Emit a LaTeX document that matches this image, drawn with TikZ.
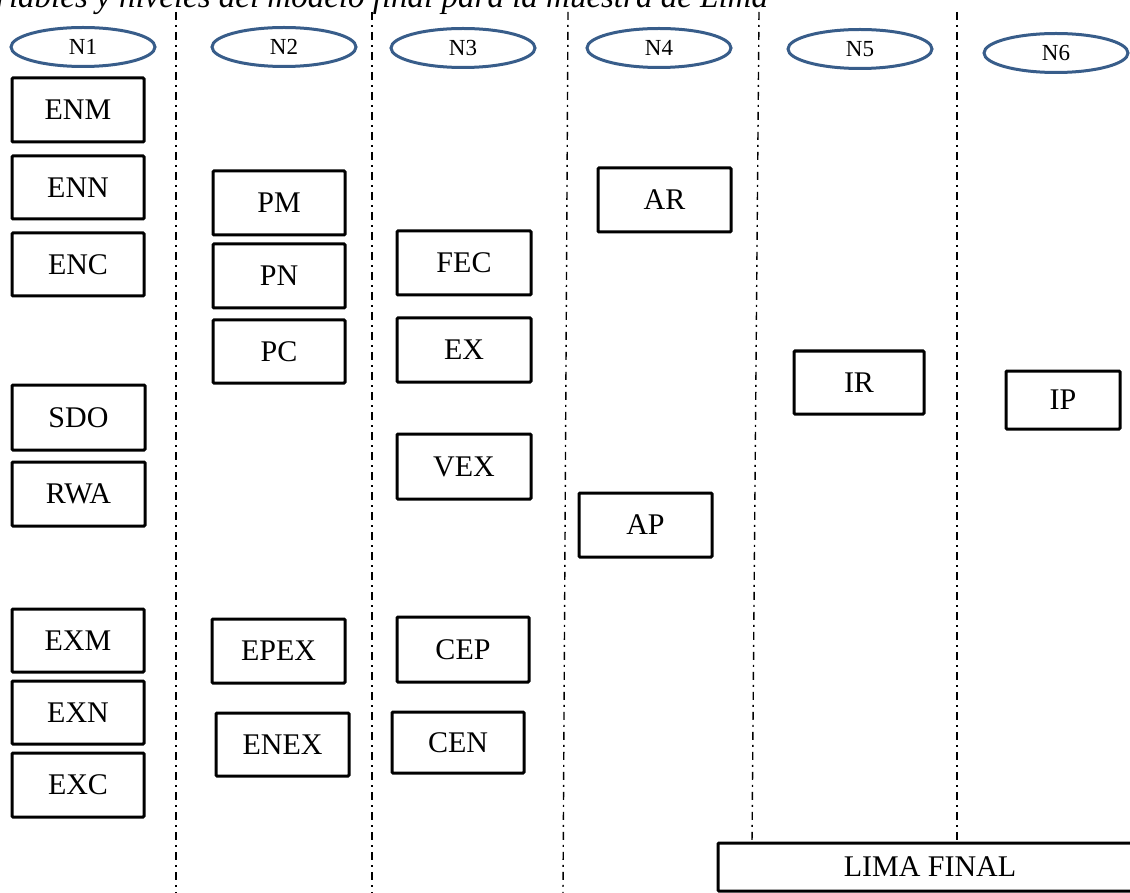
\documentclass[tikz,border=0pt]{standalone}
\usepackage{fontspec}
\setmainfont{Liberation Serif}
\usetikzlibrary{shapes.geometric}
\definecolor{ellblue}{RGB}{56,93,138}
\newcommand\mybox[6]{\node[box,minimum width={(#4-#3)*1pt},minimum height={(#6-#5)*1pt}] (#1) at ({(#3+#4)/2},{(#5+#6)/2}) {#2};}
\begin{document}
\begin{tikzpicture}[x=1pt,y=-1pt,
  box/.style={draw=black,line width=3pt,rounded corners=1pt,inner sep=0pt,fill=white,font=\fontsize{30}{36}\selectfont},
  lvl/.style={ellipse,draw=ellblue,line width=3pt,inner sep=0pt,minimum width=144pt,minimum height=39pt,font=\fontsize{23}{27}\selectfont},
  sep/.style={line width=1.4pt,dash pattern=on 8pt off 5pt on 2pt off 5pt}]
\useasboundingbox (0,0) rectangle (1130,893);
\clip (0,0) rectangle (1130,893);
\fill[white] (0,0) rectangle (1130,893);
% title (clipped at the top and left as in the reference)
\node[anchor=base west,inner sep=0pt,font=\fontsize{33}{38}\selectfont\itshape] (title) at (-37,8) {Variables y niveles del modelo final para la muestra de Lima};
% separators
\coordinate (s1t) at (176,12); \coordinate (s1b) at (176,893);
\coordinate (s2t) at (372,12); \coordinate (s2b) at (372,893);
\coordinate (s3t) at (568,12); \coordinate (s3b) at (563,893);
\coordinate (s4t) at (759,12); \coordinate (s4b) at (752,843);
\coordinate (s5t) at (957,12); \coordinate (s5b) at (957,843);
\draw[sep] (s1t) -- (s1b);
\draw[sep] (s2t) -- (s2b);
\draw[sep] (s3t) -- (s3b);
\draw[sep] (s4t) -- (s4b);
\draw[sep] (s5t) -- (s5b);
% level ellipses
\node[lvl] (n1) at (83,47) {N1};
\node[lvl] (n2) at (284,47) {N2};
\node[lvl] (n3) at (463,48) {N3};
\node[lvl] (n4) at (659,48) {N4};
\node[lvl] (n5) at (860,49) {N5};
\node[lvl] (n6) at (1056,53) {N6};
% column 1
\mybox{enm}{ENM}{12}{144}{78}{142}
\mybox{enn}{ENN}{12}{144}{156}{219}
\mybox{enc}{ENC}{12}{144}{233}{296}
\mybox{sdo}{SDO}{12}{145}{385}{450}
\mybox{rwa}{RWA}{12}{145}{462}{526}
\mybox{exm}{EXM}{12}{144}{609}{672}
\mybox{exn}{EXN}{12}{144}{681}{744}
\mybox{exc}{EXC}{12}{144}{753}{817}
% column 2
\mybox{pm}{PM}{213}{345}{171}{235}
\mybox{pn}{PN}{213}{345}{244}{308}
\mybox{pc}{PC}{213}{345}{320}{383}
\mybox{epex}{EPEX}{212}{345}{619}{683}
\mybox{enex}{ENEX}{216}{349}{713}{776}
% column 3
\mybox{fec}{FEC}{397}{531}{231}{295}
\mybox{ex}{EX}{397}{531}{318}{382}
\mybox{vex}{VEX}{397}{531}{434}{499}
\mybox{cep}{CEP}{397}{529}{617}{682}
\mybox{cen}{CEN}{392}{524}{712}{773}
% column 4
\mybox{ar}{AR}{598}{731}{168}{232}
\mybox{ap}{AP}{579}{712}{493}{557}
% column 5
\mybox{ir}{IR}{794}{924}{351}{414}
% column 6
\mybox{ip}{IP}{1006}{1120}{371}{429}
% final
\mybox{lima}{LIMA FINAL}{718}{1142}{843}{891}
\end{tikzpicture}
\end{document}
